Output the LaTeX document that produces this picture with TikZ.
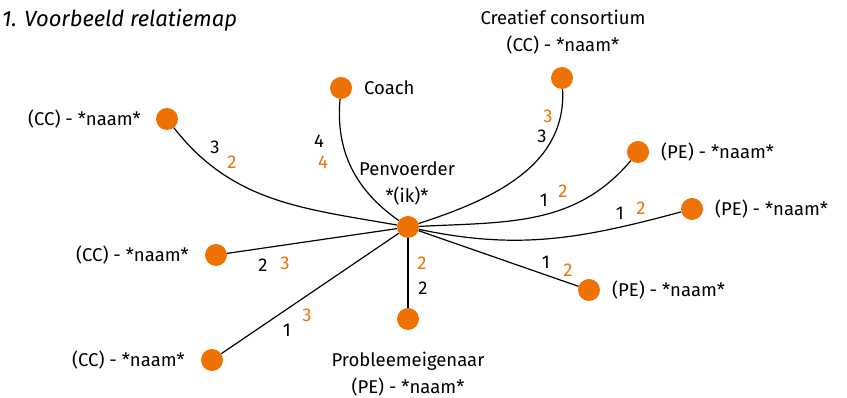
\documentclass[tikz,border=0pt]{standalone}
\usepackage{fontspec}
\setmainfont{Fira Sans}
\definecolor{relorange}{HTML}{EE7203}
\begin{document}
\begin{tikzpicture}[x=1pt,y=1pt,
  party/.style={circle,fill=relorange,minimum size=22pt,inner sep=0pt},
  lbl/.style={font=\fontsize{18.5}{27}\selectfont,text=black,inner sep=0pt,align=center},
  numk/.style={font=\fontsize{18.5}{20}\selectfont,text=black,inner sep=0pt},
  numo/.style={font=\fontsize{18.5}{20}\selectfont,text=relorange,inner sep=0pt},
  link/.style={draw=black,line width=1.2pt}]
\useasboundingbox (0,0) rectangle (847,398);

% heading
\node[anchor=west,font=\fontsize{22}{26}\selectfont\itshape,inner sep=0pt] (title) at (2,378) {1. Voorbeeld relatiemap};

% parties
\node[party] (pen)   at (408,171) {};
\node[party] (coach) at (341,310) {};
\node[party] (cc)    at (562,320) {};
\node[party] (cc1)   at (167,279) {};
\node[party] (cc2)   at (216,143) {};
\node[party] (cc3)   at (212,38)  {};
\node[party] (pe1)   at (638,246) {};
\node[party] (pe2)   at (692,189) {};
\node[party] (pe3)   at (589,108) {};
\node[party] (po)    at (408,79)  {};

% names
\node[lbl] (penL)   at (407,215) {Penvoerder\\*(ik)*};
\node[lbl,anchor=west] (coachL) at (364,310) {Coach};
\node[lbl] (ccL)    at (563,366) {Creatief consortium\\(CC) - *naam*};
\node[lbl,anchor=east] (cc1L) at (141,279) {(CC) - *naam*};
\node[lbl,anchor=east] (cc2L) at (189,143) {(CC) - *naam*};
\node[lbl,anchor=east] (cc3L) at (185,38)  {(CC) - *naam*};
\node[lbl,anchor=west] (pe1L) at (661,246) {(PE) - *naam*};
\node[lbl,anchor=west] (pe2L) at (715,189) {(PE) - *naam*};
\node[lbl,anchor=west] (pe3L) at (612,108) {(PE) - *naam*};
\node[lbl] (poL)    at (408,24)  {Probleemeigenaar\\(PE) - *naam*};

% relations
\draw[link] (pen) to[out=145,in=-95] (coach);
\draw[link] (pen) to[out=18,in=-87] (cc);
\draw[link] (pen) to[out=170,in=-52] (cc1);
\draw[link] (pen) -- (cc2);
\draw[link] (pen) -- (cc3);
\draw[link] (pen) to[out=3,in=-130] (pe1);
\draw[link] (pen) to[out=-12,in=195] (pe2);
\draw[link] (pen) -- (pe3);
\draw[link] (pen) -- (po);

% scores
\node[numk] (s1k) at (319,257) {4};
\node[numo] (s1o) at (323,236) {4};
\node[numo] (s2o) at (548,282) {3};
\node[numk] (s2k) at (542,262) {3};
\node[numk] (s3k) at (215,251) {3};
\node[numo] (s3o) at (232,236) {2};
\node[numk] (s4k) at (544,198) {1};
\node[numo] (s4o) at (563,207) {2};
\node[numk] (s5k) at (620,185) {1};
\node[numo] (s5o) at (641,190) {2};
\node[numk] (s6k) at (546,136) {1};
\node[numo] (s6o) at (568,128) {2};
\node[numk] (s7k) at (263,133) {2};
\node[numo] (s7o) at (285,135) {3};
\node[numk] (s8k) at (287,68)  {1};
\node[numo] (s8o) at (307,83)  {3};
\node[numo] (s9o) at (422,135) {2};
\node[numk] (s9k) at (423,110) {2};
\end{tikzpicture}
\end{document}
